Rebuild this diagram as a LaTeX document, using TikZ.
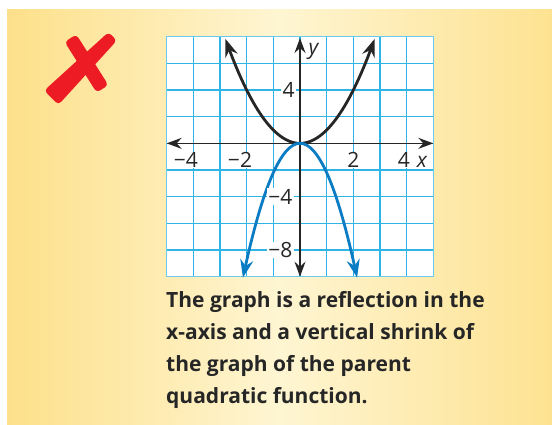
\documentclass[tikz,border=0pt]{standalone}
\usepackage{fontspec}
\setmainfont{Open Sans}
\newfontfamily\labfont{Open Sans}
\usetikzlibrary{arrows.meta}
\definecolor{bgY}{HTML}{FDE08A}
\definecolor{bgL}{HTML}{FEF5D2}
\definecolor{gridC}{HTML}{2EB4E6}
\definecolor{blueC}{HTML}{0A7CC4}
\definecolor{redX}{HTML}{ED1C24}
\tikzset{
  gridline/.style={gridC, line width=1.1pt},
  axisline/.style={black!85, line width=1.5pt, {Stealth[length=15pt,width=11pt,inset=5pt]}-{Stealth[length=15pt,width=11pt,inset=5pt]}},
  curveblack/.style={black!85, line width=2.8pt, {Stealth[length=18pt,width=13pt,inset=6pt]}-{Stealth[length=18pt,width=13pt,inset=6pt]}},
  curveblue/.style={blueC, line width=2.8pt, {Stealth[length=18pt,width=13pt,inset=6pt]}-{Stealth[length=18pt,width=13pt,inset=6pt]}},
  ticklab/.style={fill=white, inner xsep=1.5pt, inner ysep=0.8pt, text height=15pt, text depth=0pt, font=\labfont\fontsize{21}{21}\selectfont, text=black!85},
  axlab/.style={inner xsep=1.5pt, inner ysep=0.8pt, text height=15pt, text depth=0pt, font=\labfont\itshape\fontsize{21}{21}\selectfont, text=black!85},
  xmark/.style={fill=redX, draw=redX, line width=2pt, line join=round, rounded corners=3pt}
}
\begin{document}
\begin{tikzpicture}[x=1pt,y=-1pt]
\useasboundingbox (0,0) rectangle (552,424);
\fill[white] (0,0) rectangle (552,424);
\shade[left color=bgY, right color=bgY!90!bgL, middle color=bgL] (7,9) rectangle (552,424);
% red X
\fill[xmark] (76,35.8) -- (66,42.2) -- (97,91.2) -- (107,84.8) -- cycle;
\fill[xmark] (115.5,40.5) -- (108.5,33.5) -- (45.6,90.6) -- (58.4,103.4) -- cycle;
% graph
\begin{scope}[xshift=300pt, yshift=-143.333pt, x=26.6667pt, y=13.3333pt]
  \fill[white] (-5,-10) rectangle (5,8);
  \draw[gridline] (-5,-10) grid[xstep=1, ystep=2] (5,8);
  \draw[gridline, line width=1.4pt, gridC!70] (-5,-10) rectangle (5,8);
  \coordinate (xl) at (-5,0);
  \coordinate (xr) at (5,0);
  \coordinate (yb) at (0,-10);
  \coordinate (yt) at (0,7.9);
  \draw[axisline] (xl) -- (xr);
  \draw[axisline] (yb) -- (yt);
  \draw[curveblack, domain=-2.8:2.8, samples=80] plot (\x, {\x*\x});
  \draw[curveblue, domain=-2.14:2.14, samples=80] plot (\x, {-2.2*\x*\x});
  \node[ticklab] (lx1) at (-4.28,-1.24) {−4};
  \node[ticklab] (lx2) at (-2.25,-1.24) {−2};
  \node[ticklab] (lx3) at (2,-1.24) {2};
  \node[ticklab] (lx4) at (3.9,-1.24) {4};
  \node[axlab] (lxx) at (4.57,-1.24) {x};
  \node[ticklab] (ly1) at (-0.43,4) {4};
  \node[ticklab] (ly2) at (-0.74,-4) {−4};
  \node[ticklab] (ly3) at (-0.74,-8) {−8};
  \node[axlab] (lyy) at (0.5,7.2) {y};
\end{scope}
% text
\node[anchor=north west, inner sep=0pt, align=left, font=\bfseries\fontsize{21}{31.8}\selectfont, text=black!85] (txt) at (166,291.5)
{The graph is a reflection in the\\x-axis and a vertical shrink of\\the graph of the parent\\quadratic function.};
\end{tikzpicture}
\end{document}
